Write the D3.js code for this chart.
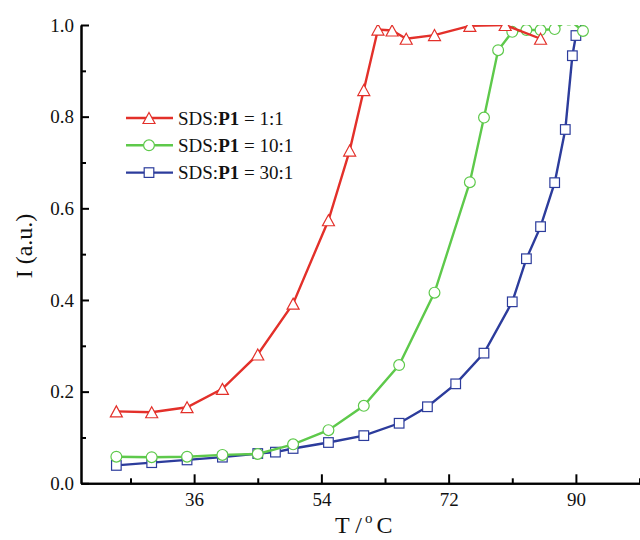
<!DOCTYPE html>
<html>
<head>
<meta charset="utf-8">
<script src="https://cdn.jsdelivr.net/npm/d3@7"></script>
<style>
  body { margin: 0; background: #fff; }
  svg { display: block; }
  svg text { font-family: "Liberation Serif", "DejaVu Serif", serif; }
  .axis path, .axis line { stroke: #000; stroke-width: 2; }
  .axis text { font-size: 19px; fill: #111; font-family: "Liberation Serif", serif; }
</style>
</head>
<body>
<svg id="chart" width="640" height="540"></svg>
<script>
// temperature (°C) and normalised intensity for each SDS:P1 ratio
const tempRed = [25, 30, 35, 40, 45, 50, 55, 58, 60, 62, 64, 66, 70, 75, 80, 85];
const intRed = [0.157, 0.155, 0.166, 0.206, 0.281, 0.392, 0.574, 0.726, 0.858, 0.99, 0.988, 0.97, 0.978, 0.998, 1.0, 0.97];

const tempGreen = [25, 30, 35, 40, 45, 50, 55, 60, 65, 70, 75, 77, 79, 81, 83, 85, 87, 89, 91];
const intGreen = [0.058, 0.057, 0.058, 0.062, 0.064, 0.085, 0.116, 0.169, 0.258, 0.416, 0.657, 0.798, 0.945, 0.985, 0.989, 0.989, 0.991, 1.012, 0.987];

const tempBlue = [25, 30, 35, 40, 45, 47.5, 50, 55, 60, 65, 69, 73, 77, 81, 83, 85, 87, 88.5, 89.5, 90, 91.5];
const intBlue = [0.039, 0.045, 0.051, 0.057, 0.065, 0.068, 0.076, 0.089, 0.104, 0.131, 0.167, 0.217, 0.284, 0.396, 0.49, 0.56, 0.656, 0.772, 0.933, 0.977, 1.02];

const seriesNames = ['1:1', '10:1', '30:1'];
const xTicks = [36, 54, 72, 90];
const xMinorTicks = [27, 45, 63, 81, 99];
const yTicks = [0, 0.2, 0.4, 0.6, 0.8, 1.0];
const yMinorTicks = [0.1, 0.3, 0.5, 0.7, 0.9];

const colours = { red: '#e3302a', green: '#5ec94b', blue: '#2c3c9c' };

const svg = d3.select('#chart');
const plotLeft = 81, plotTop = 25, plotBottom = 483.3;

const xScale = d3.scaleLinear().domain([20, 100]).range([plotLeft, plotLeft + 80 * 7.07]);
const yScale = d3.scaleLinear().domain([0, 1]).range([plotBottom, plotTop]);

// clip data to the frame, markers near 1.0 get cut like the original
svg.append('clipPath').attr('id', 'plotClip')
    .append('rect')
    .attr('x', plotLeft).attr('y', plotTop)
    .attr('width', 640 - plotLeft).attr('height', plotBottom - plotTop);

// triangle path centred on its bounding box
function trianglePath(w, h) {
    return `M0,${-h / 2}L${w / 2},${h / 2}L${-w / 2},${h / 2}Z`;
}

function drawMarker(g, shape, colour) {
    if (shape === 'triangle') {
        g.append('path').attr('d', trianglePath(12, 11));
    } else if (shape === 'circle') {
        g.append('circle').attr('r', 5.4);
    } else {
        g.append('rect').attr('x', -4.8).attr('y', -4.8).attr('width', 9.6).attr('height', 9.6);
    }
    g.selectAll('*')
        .attr('fill', '#fff')
        .attr('stroke', colour)
        .attr('stroke-width', 1.2);
}

const series = [
    { temps: tempBlue, vals: intBlue, colour: colours.blue, shape: 'square' },
    { temps: tempGreen, vals: intGreen, colour: colours.green, shape: 'circle' },
    { temps: tempRed, vals: intRed, colour: colours.red, shape: 'triangle' },
];

const plot = svg.append('g').attr('clip-path', 'url(#plotClip)');

const line = d3.line()
    .x(d => xScale(d[0]))
    .y(d => yScale(d[1]));

series.forEach(s => {
    const pts = s.temps.map((t, i) => [t, s.vals[i]]);
    const g = plot.append('g');
    g.append('path')
        .datum(pts)
        .attr('d', line)
        .attr('fill', 'none')
        .attr('stroke', s.colour)
        .attr('stroke-width', 2.4);
    pts.forEach(p => {
        const m = g.append('g').attr('transform', `translate(${xScale(p[0])},${yScale(p[1])})`);
        drawMarker(m, s.shape, s.colour);
    });
});

// axes, ticks point inwards
const xAxis = d3.axisBottom(xScale).tickValues(xTicks).tickSize(-9).tickSizeOuter(0).tickPadding(9);
const xMinor = d3.axisBottom(xScale).tickValues(xMinorTicks).tickSize(-5).tickSizeOuter(0).tickFormat('');
const yAxis = d3.axisLeft(yScale).tickValues(yTicks).tickSize(-8).tickSizeOuter(0).tickPadding(7).tickFormat(d3.format('.1f'));
const yMinor = d3.axisLeft(yScale).tickValues(yMinorTicks).tickSize(-5).tickSizeOuter(0).tickFormat('');

svg.append('g').attr('class', 'axis').attr('transform', `translate(0,${plotBottom})`).call(xMinor);
svg.append('g').attr('class', 'axis').attr('transform', `translate(0,${plotBottom})`).call(xAxis);
svg.append('g').attr('class', 'axis').attr('transform', `translate(${plotLeft},0)`).call(yMinor);
svg.append('g').attr('class', 'axis').attr('transform', `translate(${plotLeft},0)`).call(yAxis);

// axis titles
svg.append('text')
    .attr('transform', 'translate(32,246) rotate(-90)')
    .attr('text-anchor', 'middle')
    .attr('font-size', 24)
    .attr('fill', '#111')
    .text('I (a.u.)');

const xTitle = svg.append('text')
    .attr('x', 335).attr('y', 533)
    .attr('font-size', 24)
    .attr('fill', '#111');
xTitle.append('tspan').text('T /');
xTitle.append('tspan').attr('font-size', 15).attr('dy', -10).attr('dx', 3).text('o');
xTitle.append('tspan').attr('dy', 10).attr('dx', 4).text('C');

// legend
const legendRows = [
    { colour: colours.red, shape: 'triangle', name: seriesNames[0] },
    { colour: colours.green, shape: 'circle', name: seriesNames[1] },
    { colour: colours.blue, shape: 'square', name: seriesNames[2] },
];

const legend = svg.append('g').attr('class', 'legend');
legendRows.forEach((d, i) => {
    const row = legend.append('g').attr('transform', `translate(0,${118 + i * 27.3})`);
    row.append('line')
        .attr('x1', 126).attr('x2', 173)
        .attr('stroke', d.colour)
        .attr('stroke-width', 2.4);
    const m = row.append('g').attr('transform', 'translate(149,0)');
    drawMarker(m, d.shape, d.colour);
    const t = row.append('text')
        .attr('x', 178).attr('y', 0).attr('dy', '0.35em')
        .attr('font-family', '"Liberation Serif", serif')
        .attr('font-size', 19)
        .attr('fill', '#111');
    t.append('tspan').text('SDS:');
    t.append('tspan').attr('font-weight', 'bold').text('P1');
    t.append('tspan').text(' = ' + d.name);
});
</script>
</body>
</html>
